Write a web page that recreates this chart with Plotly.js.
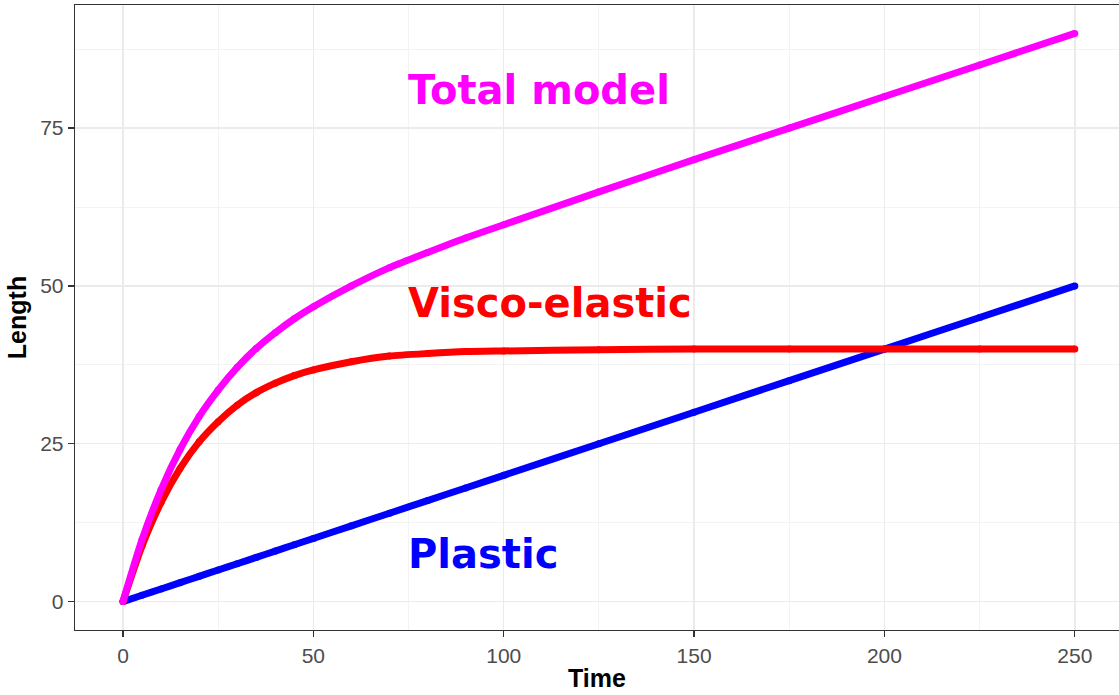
<!DOCTYPE html>
<html>
<head>
<meta charset="utf-8">
<script src="https://cdn.plot.ly/plotly-3.0.1.min.js"></script>
<style>html,body{margin:0;padding:0;background:#fff;}#chart{width:1119px;height:695px;}</style>
</head>
<body>
<div id="chart"></div>
<script>
// Time points
const time = [0, 5, 10, 15, 20, 25, 30, 35, 40, 45, 50, 60, 70, 80, 90, 100, 125, 150, 175, 200, 225, 250];
// Visco-elastic series
const viscoElastic = [0, 8.8, 15.7, 21.1, 25.3, 28.5, 31.1, 33.1, 34.6, 35.8, 36.7, 38.0, 38.9, 39.3, 39.6, 39.7, 39.9, 40, 40, 40, 40, 40];
// Plastic series
const plastic = [0, 1, 2, 3, 4, 5, 6, 7, 8, 9, 10, 12, 14, 16, 18, 20, 25, 30, 35, 40, 45, 50];
// Total model series
const totalModel = [0, 9.8, 17.7, 24.1, 29.3, 33.5, 37.1, 40.1, 42.6, 44.8, 46.7, 50.0, 52.9, 55.3, 57.6, 59.7, 64.9, 70, 75, 80, 85, 90];

const xTicks = [0, 50, 100, 150, 200, 250];
const yTicks = [0, 25, 50, 75];

const labels = [
  {text: 'Total model', x: 75, y: 81, color: '#FF00FF'},
  {text: 'Visco-elastic', x: 75, y: 47.3, color: '#FF0000'},
  {text: 'Plastic', x: 75, y: 7.5, color: '#0000FF'}
];

function series(y, color) {
  return {x: time, y: y, type: 'scatter', mode: 'lines+markers', line: {color: color, width: 7, shape: 'spline', smoothing: 0.6},
          marker: {color: color, size: 7}, hoverinfo: 'skip', showlegend: false, cliponaxis: false};
}

const data = [
  series(plastic, '#0000FF'),
  series(viscoElastic, '#FF0000'),
  series(totalModel, '#FF00FF')
];

const titleFont = {family: 'Liberation Sans, Arial, sans-serif', size: 25, color: '#000'};
const axisCommon = {
  showline: true, mirror: true, linecolor: '#333333', linewidth: 1.3,
  ticks: 'outside', ticklen: 6, tickcolor: '#333333', tickwidth: 1.3,
  gridcolor: '#EBEBEB', gridwidth: 1.4, zeroline: false,
  tickfont: {family: 'Liberation Sans, Arial, sans-serif', size: 21, color: '#4D4D4D'}
};

const layout = {
  width: 1119, height: 695,
  margin: {l: 75, r: 0, t: 5, b: 65},
  paper_bgcolor: '#ffffff', plot_bgcolor: '#ffffff',
  xaxis: Object.assign({}, axisCommon, {
    range: [-12.6, 261.6], tickvals: xTicks, ticktext: xTicks.map(String),
    minor: {showgrid: true, gridcolor: '#F3F3F3', gridwidth: 1, tickvals: [25, 75, 125, 175, 225]},
    title: {text: '<b>Time</b>', font: titleFont, standoff: 4}
  }),
  yaxis: Object.assign({}, axisCommon, {
    range: [-4.5, 94.5], tickvals: yTicks, ticktext: yTicks.map(String),
    minor: {showgrid: true, gridcolor: '#F3F3F3', gridwidth: 1, tickvals: [12.5, 37.5, 62.5, 87.5]},
    title: {text: '<b>Length</b>', font: titleFont, standoff: 6}
  }),
  annotations: labels.map(l => ({
    x: l.x, y: l.y, xref: 'x', yref: 'y', text: '<b>' + l.text + '</b>', showarrow: false,
    xanchor: 'left', yanchor: 'middle', xshift: -3,
    font: {family: 'DejaVu Sans, Verdana, sans-serif', size: 40, color: l.color}
  }))
};

Plotly.newPlot('chart', data, layout, {displayModeBar: false, staticPlot: true});
</script>
</body>
</html>
